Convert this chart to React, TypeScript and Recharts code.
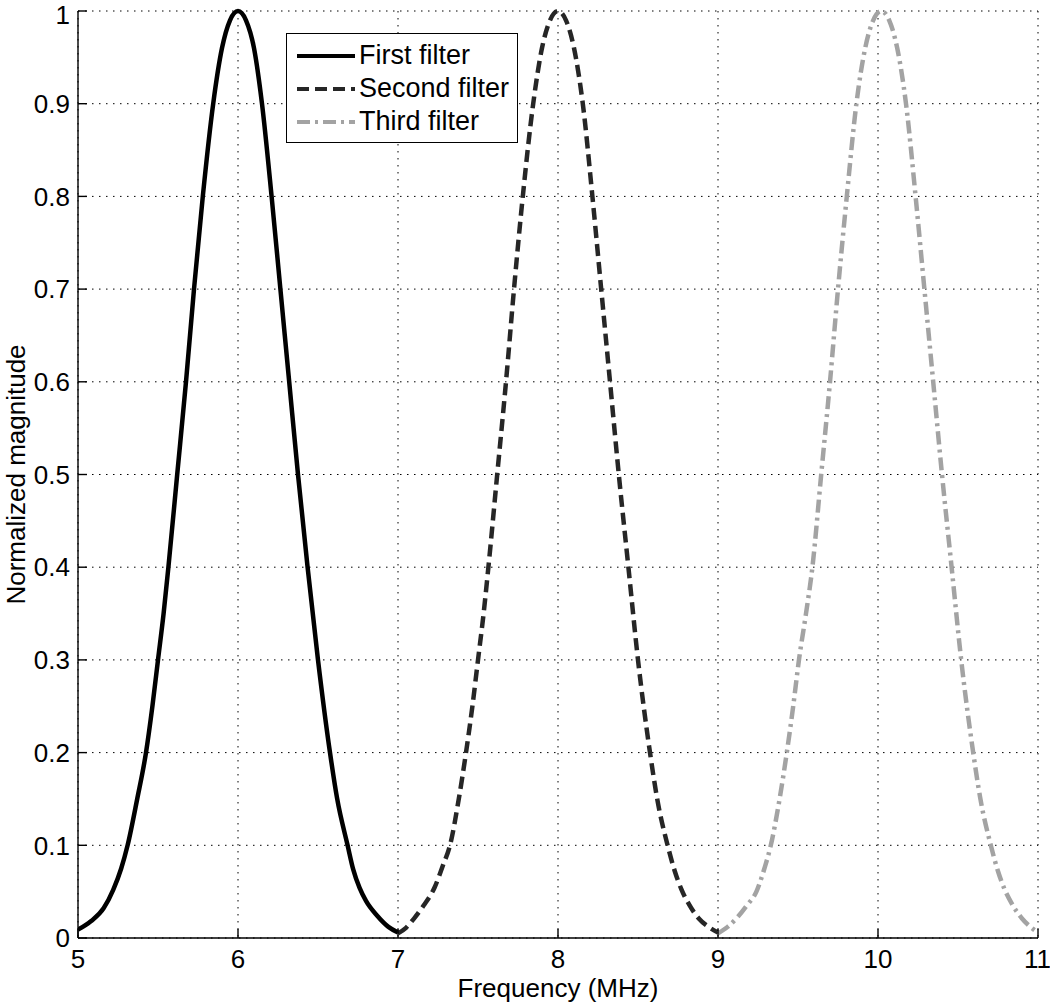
import React from 'react'
import {
  LineChart,
  Line,
  XAxis,
  YAxis,
  CartesianGrid,
  Legend,
} from 'recharts'

// frequency (MHz) / normalized magnitude
const firstFreq = [
  5.0, 5.08, 5.16, 5.22, 5.27, 5.31, 5.37, 5.425, 5.465, 5.5, 5.535, 5.565, 5.62, 5.675,
  5.725, 5.78, 5.845, 5.9, 5.95, 6.0, 6.05, 6.1, 6.15, 6.21, 6.265, 6.32, 6.375, 6.435,
  6.5, 6.575, 6.62, 6.685, 6.72, 6.76, 6.8, 6.87, 6.94, 7.0,
]
const firstMag = [
  0.009, 0.018, 0.032, 0.052, 0.075, 0.1, 0.15, 0.2, 0.25, 0.3, 0.35, 0.4, 0.5, 0.6,
  0.7, 0.8, 0.9, 0.96, 0.99, 1.0, 0.99, 0.96, 0.9, 0.8, 0.7, 0.6, 0.5, 0.4,
  0.3, 0.2, 0.15, 0.1, 0.074, 0.054, 0.04, 0.024, 0.012, 0.006,
]

const secondFreq = [
  7.0, 7.05, 7.1, 7.16, 7.23, 7.28, 7.325, 7.38, 7.425, 7.465, 7.5, 7.535, 7.565, 7.62,
  7.675, 7.725, 7.78, 7.845, 7.9, 7.95, 8.0, 8.05, 8.1, 8.155, 8.215, 8.27, 8.325, 8.38,
  8.44, 8.5, 8.575, 8.62, 8.685, 8.73, 8.77, 8.82, 8.88, 8.95, 9.0,
]
const secondMag = [
  0.005, 0.011, 0.021, 0.035, 0.055, 0.078, 0.1, 0.15, 0.2, 0.25, 0.3, 0.35, 0.4, 0.5,
  0.6, 0.7, 0.8, 0.9, 0.96, 0.99, 1.0, 0.99, 0.96, 0.9, 0.8, 0.7, 0.6, 0.5,
  0.4, 0.3, 0.2, 0.15, 0.1, 0.072, 0.053, 0.036, 0.021, 0.011, 0.006,
]

const thirdFreq = [
  9.0, 9.06, 9.12, 9.18, 9.24, 9.29, 9.33, 9.385, 9.43, 9.47, 9.506, 9.55, 9.59, 9.645,
  9.7, 9.75, 9.805, 9.865, 9.92, 9.97, 10.02, 10.07, 10.12, 10.175, 10.235, 10.29, 10.345,
  10.4, 10.46, 10.52, 10.595, 10.64, 10.705, 10.75, 10.79, 10.84, 10.9, 10.96, 11.0,
]
const thirdMag = [
  0.005, 0.012, 0.022, 0.035, 0.05, 0.075, 0.1, 0.15, 0.2, 0.25, 0.3, 0.35, 0.4, 0.5,
  0.6, 0.7, 0.8, 0.9, 0.96, 0.99, 1.0, 0.99, 0.96, 0.9, 0.8, 0.7, 0.6,
  0.5, 0.4, 0.3, 0.2, 0.15, 0.1, 0.072, 0.053, 0.036, 0.021, 0.011, 0.006,
]

const xTicks = [5, 6, 7, 8, 9, 10, 11]
const yTicks = [0, 0.1, 0.2, 0.3, 0.4, 0.5, 0.6, 0.7, 0.8, 0.9, 1]

const toPoints = (fs: number[], ms: number[]) => fs.map((f, i) => ({ f, m: ms[i] }))

const series = [
  { name: 'First filter', data: toPoints(firstFreq, firstMag), color: '#000000', dash: undefined },
  { name: 'Second filter', data: toPoints(secondFreq, secondMag), color: '#262626', dash: '12 6' },
  { name: 'Third filter', data: toPoints(thirdFreq, thirdMag), color: '#a3a3a3', dash: '13 5 3 5' },
]

const FONT = '"Liberation Sans", Arial, Helvetica, sans-serif'

function LegendBox() {
  return (
    <div
      style={{
        width: 230,
        height: 103,
        border: '1px solid #000',
        background: '#fff',
        boxSizing: 'content-box',
        paddingTop: 5,
      }}
    >
      {series.map((s) => (
        <div key={s.name} style={{ display: 'flex', alignItems: 'center', height: 33 }}>
          <svg width={70} height={10} style={{ marginLeft: 8 }}>
            <line
              x1={2}
              x2={60}
              y1={5}
              y2={5}
              stroke={s.color}
              strokeWidth={4}
              strokeDasharray={s.dash}
            />
          </svg>
          <span style={{ fontFamily: FONT, fontSize: 27, color: '#000', marginLeft: -6 }}>
            {s.name}
          </span>
        </div>
      ))}
    </div>
  )
}

function YTitle(props: any) {
  const vb = props.viewBox
  const x = 25
  const y = vb.y + vb.height / 2
  return (
    <text
      x={x}
      y={y}
      transform={`rotate(-90 ${x} ${y})`}
      textAnchor="middle"
      fontFamily={FONT}
      fontSize={26}
      fill="#000"
    >
      Normalized magnitude
    </text>
  )
}

export default function App() {
  const tickStyle = { fontFamily: FONT, fontSize: 26, fill: '#000' }
  return (
    <div style={{ position: 'absolute', left: 0, top: 0, background: '#fff' }}>
      <LineChart
        width={1050}
        height={1005}
        margin={{ top: 11, right: 12, bottom: 17, left: 8 }}
      >
        <CartesianGrid stroke="#000" strokeDasharray="1.5 5.5" strokeWidth={1} />
        <XAxis
          dataKey="f"
          type="number"
          domain={[5, 11]}
          ticks={xTicks}
          allowDataOverflow
          height={50}
          tickSize={-9}
          tickMargin={21}
          stroke="#000"
          strokeWidth={1.4}
          tick={tickStyle}
          label={{
            value: 'Frequency (MHz)',
            position: 'bottom',
            offset: -9,
            style: { fontFamily: FONT, fontSize: 26, fill: '#000' },
          }}
        />
        <XAxis
          xAxisId="top"
          orientation="top"
          type="number"
          domain={[5, 11]}
          ticks={xTicks}
          height={0}
          tickSize={-9}
          tick={false}
          stroke="#000"
          strokeWidth={1.4}
        />
        <YAxis
          type="number"
          domain={[0, 1]}
          ticks={yTicks}
          width={70}
          tickSize={-9}
          tickMargin={17}
          stroke="#000"
          strokeWidth={1.4}
          tick={tickStyle}
          tickFormatter={(v: number) => String(v)}
          label={<YTitle />}
        />
        <YAxis
          yAxisId="right"
          orientation="right"
          type="number"
          domain={[0, 1]}
          ticks={yTicks}
          width={0}
          tickSize={-9}
          tick={false}
          stroke="#000"
          strokeWidth={1.4}
        />
        <Legend
          layout="vertical"
          verticalAlign="middle"
          align="center"
          content={() => <LegendBox />}
          wrapperStyle={{ position: 'absolute', left: 286, top: 33, width: 232 }}
        />
        {series.map((s) => (
          <Line
            key={s.name}
            data={s.data}
            dataKey="m"
            name={s.name}
            type="monotone"
            stroke={s.color}
            strokeWidth={4.5}
            strokeDasharray={s.dash}
            dot={false}
            activeDot={false}
            isAnimationActive={false}
          />
        ))}
      </LineChart>
    </div>
  )
}
